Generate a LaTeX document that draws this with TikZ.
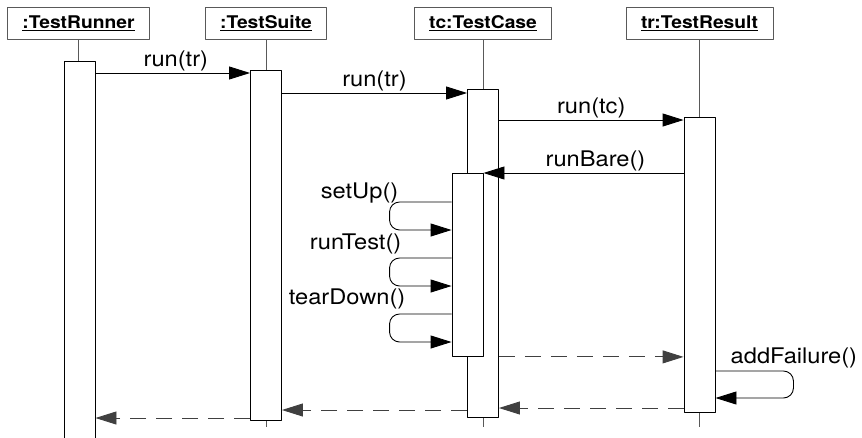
\documentclass[tikz,border=0pt]{standalone}
\usepackage{fontspec}
\setmainfont{TeX Gyre Heros}[FakeStretch=1.1]
\usetikzlibrary{arrows.meta}

\begin{document}
\begin{tikzpicture}[
		x = 1pt,
		y = -1pt,
		line join = round,
		> = {Triangle[length=21pt,width=13pt]},
		objbox/.style = {draw=black!65, line width=0.9pt, minimum height=32pt, inner xsep=15pt,
			font=\bfseries\fontsize{17.5}{20}\selectfont},
		lifeline/.style = {draw=black!65, line width=0.9pt},
		actbar/.style = {draw, fill=white, line width=0.9pt, minimum width=31pt, anchor=north},
		call/.style = {->, line width=0.9pt},
		reply/.style = {->, line width=0.9pt, draw=black!75, dash pattern=on 16pt off 10pt},
		selfcall/.style = {->, line width=0.9pt, rounded corners=10pt},
		lbl/.style = {font=\fontsize{21.5}{24}\selectfont, inner sep=1.5pt},
		]
\useasboundingbox	(0,0) rectangle (862,437);

% objects
\node[objbox]	(runner)	at (78.5,23)	{\underline{:TestRunner}};
\node[objbox]	(suite)		at (266,23)	{\underline{:TestSuite}};
\node[objbox]	(case)		at (483,23)	{\underline{tc:TestCase}};
\node[objbox]	(result)	at (699.5,23)	{\underline{tr:TestResult}};

\draw[lifeline]	(runner.south)	-- (runner.south |- 0,437);
\draw[lifeline]	(suite.south)	-- (suite.south |- 0,427);
\draw[lifeline]	(case.south)	-- (case.south |- 0,427);
\draw[lifeline]	(result.south)	-- (result.south |- 0,427);

% activations
\node[actbar, minimum height=390pt]	(barRunner)	at (79.5,61)	{};
\node[actbar, minimum height=350pt]	(barSuite)	at (266,70)	{};
\node[actbar, minimum height=328pt]	(barCase)	at (483,89)	{};
\node[actbar, minimum height=183pt]	(barCaseIn)	at (467.5,173)	{};
\node[actbar, minimum height=295pt]	(barResult)	at (699.5,117)	{};

% messages
\draw[call]	(barRunner.east |- 0,73) -- node[lbl, above, pos=0.52] {run(tr)} (barSuite.west |- 0,73);
\draw[call]	(barSuite.east |- 0,93) -- node[lbl, above] {run(tr)} (barCase.west |- 0,93);
\draw[call]	(barCase.east |- 0,120) -- node[lbl, above] {run(tc)} (barResult.west |- 0,120);
\draw[call]	(barResult.west |- 0,173) -- node[lbl, above, pos=0.44] {runBare()} (barCaseIn.east |- 0,173);

\draw[selfcall]	(barCaseIn.west |- 0,202) -- ++(-62,0) -- ++(0,28) -- (barCaseIn.west |- 0,230);
\draw[selfcall]	(barCaseIn.west |- 0,258) -- ++(-62,0) -- ++(0,28) -- (barCaseIn.west |- 0,286);
\draw[selfcall]	(barCaseIn.west |- 0,314) -- ++(-62,0) -- ++(0,28) -- (barCaseIn.west |- 0,342);
\node[lbl, anchor=base east]	(lblSetUp)	at (400,198)	{setUp()};
\node[lbl, anchor=base east]	(lblRunTest)	at (403,249)	{runTest()};
\node[lbl, anchor=base east]	(lblTearDown)	at (407,304)	{tearDown()};

\draw[reply]	(barCase.east |- barCaseIn.south) -- (barResult.west |- barCaseIn.south);

\draw[selfcall]	(barResult.east |- 0,371) -- ++(78,0) -- ++(0,27) -- (barResult.east |- 0,398);
\node[lbl, anchor=base west]	(lblFailure)	at (729,363)	{addFailure()};

\draw[reply]	(barResult.west |- 0,408) -- (barCase.east |- 0,408);
\draw[reply]	(barCase.west |- 0,410) -- (barSuite.east |- 0,410);
\draw[reply]	(barSuite.west |- 0,418) -- (barRunner.east |- 0,418);
\end{tikzpicture}
\end{document}
